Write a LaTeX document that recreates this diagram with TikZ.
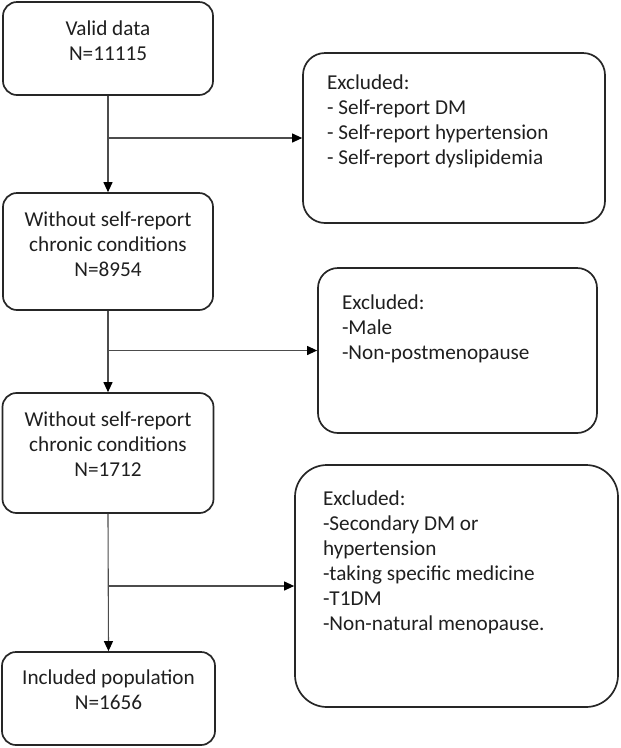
\documentclass[tikz,border=0pt]{standalone}
\usepackage{fontspec}
\setmainfont{Carlito}
\usetikzlibrary{arrows.meta}

% text block inside a box: width, height, top gap, lines
\newcommand{\boxbody}[4]{\parbox[c][#2][t]{#1}{\vspace*{#3}#4}}

\tikzset{
  stagebox/.style={draw=black!85, line width=1.7pt, rounded corners=14pt,
    inner sep=0pt, text=black!88, font=\fontsize{21.2}{25}\selectfont},
  exclbox/.style={stagebox, rounded corners=#1, inner xsep=24pt},
  flowline/.style={draw=black!70, line width=1.1pt,
    -{Triangle[length=10pt,width=9pt,color=black]}}
}

\begin{document}
\begin{tikzpicture}[x=1pt,y=-1pt]
   \useasboundingbox (0,0) rectangle (621,748);
   % Main column
   \node[stagebox] (valid) at (108,48.5)
      {\boxbody{210pt}{93pt}{18.5pt}{\centering Valid data\\N=11115}};
   \node[stagebox] (noself) at (108,251.5)
      {\boxbody{210pt}{117pt}{18.5pt}{\centering Without self-report\\chronic conditions\\N=8954}};
   \node[stagebox] (postmeno) at (108,453)
      {\boxbody{211pt}{120pt}{18.5pt}{\centering Without self-report\\chronic conditions\\N=1712}};
   \node[stagebox] (included) at (108.5,698.5)
      {\boxbody{213pt}{93pt}{17.5pt}{\centering Included population\\N=1656}};
   % Exclusion boxes
   \node[exclbox=22pt] (exclA) at (454,138)
      {\boxbody{254pt}{170pt}{22pt}{Excluded:\\- Self-report DM\\- Self-report hypertension\\- Self-report dyslipidemia}};
   \node[exclbox=20pt] (exclB) at (457.5,350.5)
      {\boxbody{231pt}{165pt}{26.5pt}{Excluded:\\-Male\\-Non-postmenopause}};
   \node[exclbox=32pt, inner xsep=28pt] (exclC) at (456.5,586)
      {\boxbody{267pt}{242pt}{25.5pt}{Excluded:\\-Secondary DM or\\hypertension\\-taking specific medicine\\-T1DM\\-Non-natural menopause.}};
   % Arrows down
   \draw[flowline] (valid.south) -- (noself.north);
   \draw[flowline] (noself.south) -- (postmeno.north);
   \draw[flowline] (postmeno.south) -- (included.north);
   % Arrows out
   \draw[flowline] (exclA.west -| valid.south) -- (exclA.west);
   \draw[flowline] (exclB.west -| noself.south) -- (exclB.west);
   \draw[flowline] (exclC.west -| postmeno.south) -- (exclC.west);
\end{tikzpicture}
\end{document}
